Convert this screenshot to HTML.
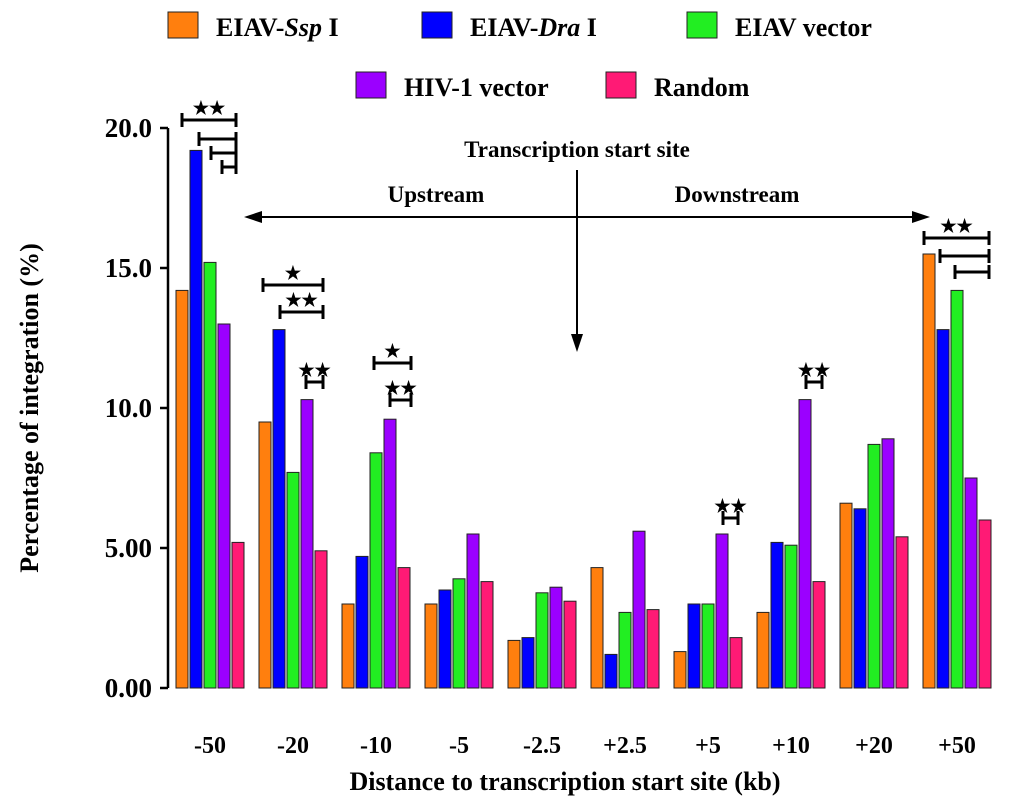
<!DOCTYPE html>
<html><head><meta charset="utf-8"><style>
body{margin:0;background:#fff;}
text{font-family:"Liberation Serif",serif;font-weight:bold;fill:#000;}
</style></head><body>
<svg id="c" width="1024" height="804">
</svg>
<script>
const categories=["-50","-20","-10","-5","-2.5","+2.5","+5","+10","+20","+50"];
const seriesNames=["EIAV-Ssp I","EIAV-Dra I","EIAV vector","HIV-1 vector","Random"];
const ssp=[14.2,9.5,3.0,3.0,1.7,4.3,1.3,2.7,6.6,15.5];
const dra=[19.2,12.8,4.7,3.5,1.8,1.2,3.0,5.2,6.4,12.8];
const eiav=[15.2,7.7,8.4,3.9,3.4,2.7,3.0,5.1,8.7,14.2];
const hiv=[13.0,10.3,9.6,5.5,3.6,5.6,5.5,10.3,8.9,7.5];
const rnd=[5.2,4.9,4.3,3.8,3.1,2.8,1.8,3.8,5.4,6.0];
const yTicks=[0,5,10,15,20];
const yTickLabels=["0.00","5.00","10.0","15.0","20.0"];
const colors=["#ff7f0e","#0000ff","#22ee22","#9b00ff","#ff1a75"];
const svg=document.getElementById('c');const NS="http://www.w3.org/2000/svg";
function el(t,a,p){const e=document.createElementNS(NS,t);for(const k in a)e.setAttribute(k,a[k]);(p||svg).appendChild(e);return e;}
const y0=688,ppu=28;
const y=v=>y0-v*ppu;
const x=(i,s)=>176+i*83+s*14;
const series=[ssp,dra,eiav,hiv,rnd];
series.forEach((arr,s)=>arr.forEach((v,i)=>{
 const r=el('rect',{x:x(i,s),y:y(v),width:12,height:y0-y(v),fill:colors[s],stroke:'#222','stroke-width':1});
 
 
}));
el('line',{x1:168,y1:y(20),x2:168,y2:y0,stroke:'#000','stroke-width':2.5});
yTicks.forEach((t,i)=>{
 el('line',{x1:160,y1:y(t),x2:168,y2:y(t),stroke:'#000','stroke-width':2.5});
 const tx=el('text',{x:152,y:y(t)+9,'text-anchor':'end','font-size':27});tx.textContent=yTickLabels[i];
 
});
categories.forEach((c,i)=>{
 const tx=el('text',{x:x(i,2)+6,y:753,'text-anchor':'middle','font-size':24});tx.textContent=c;
 
});
let t=el('text',{x:565,y:790,'text-anchor':'middle','font-size':26});t.textContent="Distance to transcription start site (kb)";

t=el('text',{x:0,y:0,'text-anchor':'middle','font-size':26,transform:'translate(38,408) rotate(-90)'});t.textContent="Percentage of integration (%)";

const leg=[[168,8],[422,8],[687,8],[356,68],[606,68]];
leg.forEach((p,s)=>{
 el('rect',{x:p[0],y:p[1]+4,width:30,height:26,fill:colors[s],stroke:'#222'});
 const tx=el('text',{x:p[0]+48,y:p[1]+28,'font-size':26});
 if(s==0)tx.innerHTML='EIAV-<tspan font-style="italic">Ssp</tspan> I';
 else if(s==1)tx.innerHTML='EIAV-<tspan font-style="italic">Dra</tspan> I';
 else tx.textContent=seriesNames[s];
 
});
t=el('text',{x:577,y:157,'text-anchor':'middle','font-size':23});t.textContent="Transcription start site";
t=el('text',{x:436,y:202,'text-anchor':'middle','font-size':23});t.textContent="Upstream";
t=el('text',{x:737,y:202,'text-anchor':'middle','font-size':23});t.textContent="Downstream";
el('line',{x1:255,y1:217,x2:918,y2:217,stroke:'#000','stroke-width':2});
el('polygon',{points:'244,217 262,211 262,223',fill:'#000'});
el('polygon',{points:'930,217 912,211 912,223',fill:'#000'});
el('line',{x1:577,y1:170,x2:577,y2:340,stroke:'#000','stroke-width':2});
el('polygon',{points:'577,352 571,334 583,334',fill:'#000'});
function br(x1,x2,yy,star){
 el('path',{d:`M${x1} ${yy-7}V${yy+7}M${x1} ${yy}H${x2}M${x2} ${yy-7}V${yy+7}`,stroke:'#000','stroke-width':3,fill:'none'});
 if(star){const s=el('text',{x:(x1+x2)/2,y:yy-6,'text-anchor':'middle','font-size':18});s.textContent=star;}
}
br(182,236,120,'★★');br(199,236,139);br(211,236,153);br(222,236,167);
br(263,323,285,'★');br(280,323,312,'★★');br(306,323,382,'★★');
br(374,411,363,'★');br(390,411,400,'★★');
br(723,738,518,'★★');br(806,822,382,'★★');
br(924,989,238,'★★');br(940,989,256);br(955,989,272);
</script>
</body></html>
